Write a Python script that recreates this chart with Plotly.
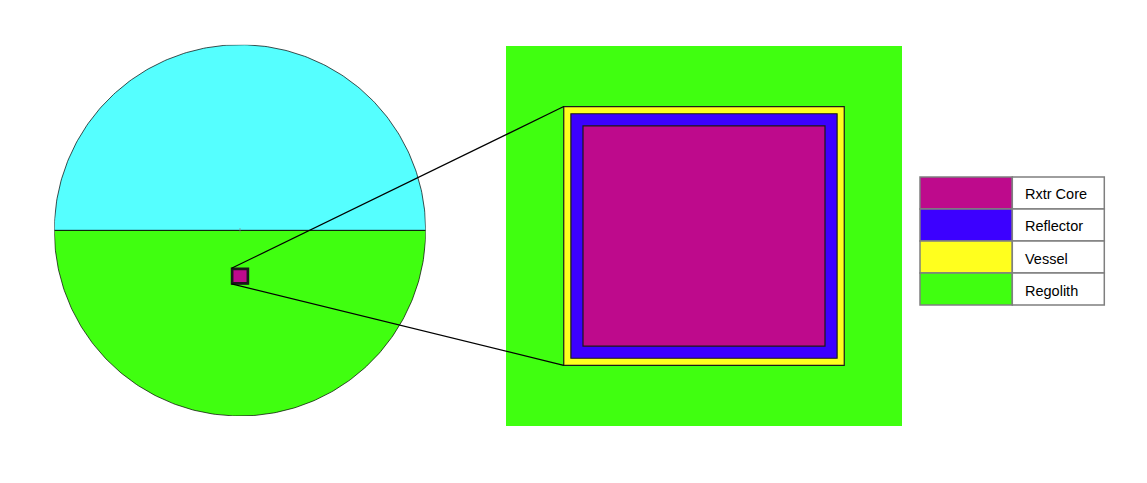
import numpy as np
import plotly.graph_objects as go

# legend entries (top to bottom) and their fill colours
materials = ['Rxtr Core', 'Reflector', 'Vessel', 'Regolith']
material_colors = ['#be0a8c', '#3c00ff', '#ffff1e', '#40ff10']
sky_color = '#55ffff'

# site geometry, metres
site_radius = 28.0
core_depth = 6.9          # depth of core centre below the surface line
core_width = 2.2
core_height = 2.0
reflector_thick = 0.11
vessel_thick = 0.065

# size of the zoomed window around the core, metres
zoom_width = 3.6
zoom_height = 3.45

W, H = 1147, 483

# panel boxes in pixels (left, top, right, bottom)
left_box = (54.3, 44.7, 425.7, 416.0)
right_box = (506.0, 46.0, 902.0, 426.0)


def dom_x(box):
    return [box[0] / W, box[2] / W]


def dom_y(box):
    return [1 - box[3] / H, 1 - box[1] / H]


left_xr = [-site_radius, site_radius]
left_yr = [-site_radius, site_radius]
right_xr = [-zoom_width / 2, zoom_width / 2]
right_yr = [-core_depth - zoom_height / 2, -core_depth + zoom_height / 2]


def to_paper(v, rng, dom):
    return dom[0] + (v - rng[0]) / (rng[1] - rng[0]) * (dom[1] - dom[0])


fig = go.Figure()

# site cross-section: sky half above, regolith half below
th_up = np.linspace(0, np.pi, 200)
th_dn = np.linspace(np.pi, 2 * np.pi, 200)
fig.add_trace(go.Scatter(
    x=site_radius * np.cos(th_up), y=site_radius * np.sin(th_up),
    fill='toself', fillcolor=sky_color, mode='lines',
    line=dict(color='black', width=0.7), hoverinfo='skip', showlegend=False,
    xaxis='x', yaxis='y'))
fig.add_trace(go.Scatter(
    x=site_radius * np.cos(th_dn), y=site_radius * np.sin(th_dn),
    fill='toself', fillcolor=material_colors[3], mode='lines',
    line=dict(color='black', width=0.7), hoverinfo='skip', showlegend=False,
    xaxis='x', yaxis='y'))

shapes = []
# surface line + small centre tick
shapes.append(dict(type='line', xref='x', yref='y', x0=-site_radius, x1=site_radius,
                   y0=0, y1=0, line=dict(color='black', width=1)))
shapes.append(dict(type='line', xref='x', yref='y', x0=0, x1=0, y0=-0.35, y1=0.35,
                   line=dict(color='#888888', width=0.7)))

# zoom window background (regolith)
shapes.append(dict(type='rect', xref='x2', yref='y2',
                   x0=right_xr[0], x1=right_xr[1], y0=right_yr[0], y1=right_yr[1],
                   fillcolor=material_colors[3], line=dict(width=0)))

# layers, outermost first
half_w_core = core_width / 2
half_h_core = core_height / 2
layers = [
    (material_colors[2], half_w_core + reflector_thick + vessel_thick,
     half_h_core + reflector_thick + vessel_thick),
    (material_colors[1], half_w_core + reflector_thick, half_h_core + reflector_thick),
    (material_colors[0], half_w_core, half_h_core),
]
line_w = {'x': 1.5, 'x2': 1.2}
for xr_, yr_ in [('x', 'y'), ('x2', 'y2')]:
    for col, hw, hh in layers:
        shapes.append(dict(type='rect', xref=xr_, yref=yr_,
                           x0=-hw, x1=hw, y0=-core_depth - hh, y1=-core_depth + hh,
                           fillcolor=col, line=dict(color='#1a1a1a', width=line_w[xr_])))

# connector lines from small core to zoomed core
vw, vh = layers[0][1], layers[0][2]
for yy in (-core_depth + vh, -core_depth - vh):
    shapes.append(dict(
        type='line', xref='paper', yref='paper',
        x0=to_paper(-vw, left_xr, dom_x(left_box)), y0=to_paper(yy, left_yr, dom_y(left_box)),
        x1=to_paper(-vw, right_xr, dom_x(right_box)), y1=to_paper(yy, right_yr, dom_y(right_box)),
        line=dict(color='black', width=1.2)))

# legend table
leg_left, leg_mid, leg_right = 920.0, 1012.3, 1104.3
leg_top, row_h = 177.0, 32.0
annotations = []
for i, (name, col) in enumerate(zip(materials, material_colors)):
    top = leg_top + i * row_h
    y0, y1 = 1 - (top + row_h) / H, 1 - top / H
    shapes.append(dict(type='rect', xref='paper', yref='paper',
                       x0=leg_left / W, x1=leg_mid / W, y0=y0, y1=y1,
                       fillcolor=col, line=dict(color='#7f7f7f', width=1.5)))
    shapes.append(dict(type='rect', xref='paper', yref='paper',
                       x0=leg_mid / W, x1=leg_right / W, y0=y0, y1=y1,
                       fillcolor='white', line=dict(color='#7f7f7f', width=1.5)))
    annotations.append(dict(xref='paper', yref='paper', x=(leg_mid + 11) / W,
                            y=(y0 + y1) / 2 - 1.5 / H, text=name, showarrow=False,
                            xanchor='left', yanchor='middle',
                            font=dict(family='Liberation Sans, Arial', size=14.5, color='black')))

ax_off = dict(showgrid=False, zeroline=False, showticklabels=False, ticks='',
              showline=False, fixedrange=True)
fig.update_layout(
    width=W, height=H,
    margin=dict(l=0, r=0, t=0, b=0),
    paper_bgcolor='white', plot_bgcolor='white',
    showlegend=False,
    xaxis=dict(domain=dom_x(left_box), range=left_xr, **ax_off),
    yaxis=dict(domain=dom_y(left_box), range=left_yr, **ax_off),
    xaxis2=dict(domain=dom_x(right_box), range=right_xr, anchor='y2', **ax_off),
    yaxis2=dict(domain=dom_y(right_box), range=right_yr, anchor='x2', **ax_off),
    shapes=shapes,
    annotations=annotations,
)

# page body has a default 8px margin; drop it so the figure sits at the corner
fig.write_html("out.html", config={'displayModeBar': False},
               post_script="document.body.style.margin='0';")
